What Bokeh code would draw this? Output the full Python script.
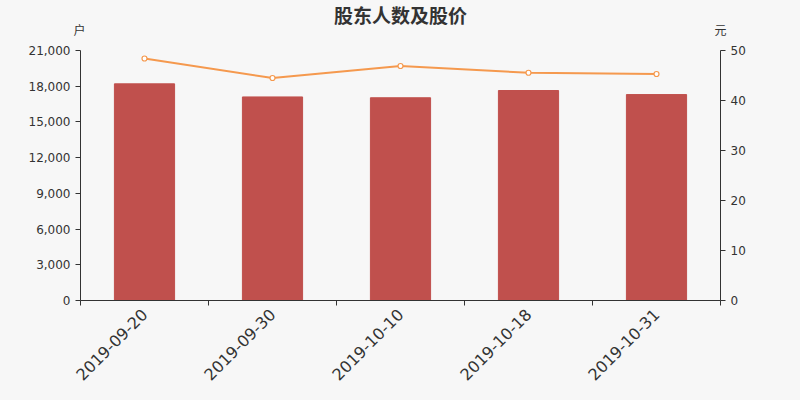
import math
from bokeh.plotting import figure
from bokeh.models import (ColumnDataSource, LinearAxis, Range1d, FixedTicker,
                          Label, NumeralTickFormatter)
from bokeh.embed import file_html
from bokeh.resources import INLINE

dates = ["2019-09-20", "2019-09-30", "2019-10-10", "2019-10-18", "2019-10-31"]
holders = [18200, 17100, 17030, 17640, 17300]
prices = [48.4, 44.5, 46.9, 45.55, 45.3]
left_ticks = [0, 3000, 6000, 9000, 12000, 15000, 18000, 21000]
right_ticks = [0, 10, 20, 30, 40, 50]

BG = "#f7f7f7"
TXT = "#333333"
FONT = "DejaVu Sans"
CJK = "Noto Sans CJK SC"

W, H = 792, 392
X0, X1 = 80, 720        # plot area left/right in px
YT, YB = 50, 300        # plot area top/bottom in px
N = len(dates)
PXU = (X1 - X0) / N     # px per category

LMAX = left_ticks[-1]
RMAX = right_ticks[-1]
LPX = LMAX / (YB - YT)  # left-axis units per px
RPX = RMAX / (YB - YT)

xs = [i + 0.5 for i in range(N)]
src = ColumnDataSource(dict(x=xs, h=holders, p=prices))

p = figure(width=W, height=H, output_backend="svg", toolbar_location=None,
           x_range=Range1d(-X0 / PXU, N + (W - X1) / PXU),
           y_range=Range1d(-(H - YB) * LPX, YB * LPX),
           min_border=0, x_axis_location=None, y_axis_location=None)
p.background_fill_color = BG
p.border_fill_color = BG
p.outline_line_color = None
p.xgrid.visible = False
p.ygrid.visible = False
p.extra_y_ranges = {"price": Range1d(-(H - YB) * RPX, YB * RPX)}

p.vbar(x="x", top="h", width=0.47, source=src, color="#c0504d")
p.line(x="x", y="p", source=src, y_range_name="price", color="#f5994e", line_width=2)
p.scatter(x="x", y="p", source=src, y_range_name="price", size=5,
          fill_color="white", line_color="#f5994e", line_width=1.2)

# x axis, fixed at y = 0
xa = LinearAxis(bounds=(0, N), fixed_location=0,
                ticker=FixedTicker(ticks=xs, minor_ticks=list(range(N + 1))))
xa.major_label_overrides = {x: d for x, d in zip(xs, dates)}
xa.major_tick_line_color = None
xa.minor_tick_in = 0
xa.minor_tick_out = 5
xa.minor_tick_line_color = TXT
xa.axis_line_color = TXT
xa.major_label_orientation = math.pi / 4
xa.major_label_text_font = FONT
xa.major_label_text_font_size = "16px"
xa.major_label_text_color = TXT
p.add_layout(xa, "below")

# y axes, fixed at the plot-area edges
ya = LinearAxis(ticker=FixedTicker(ticks=left_ticks),
                formatter=NumeralTickFormatter(format="0,0"),
                bounds=(0, LMAX), fixed_location=0)
ra = LinearAxis(y_range_name="price", ticker=FixedTicker(ticks=right_ticks),
                bounds=(0, RMAX), fixed_location=N)
p.add_layout(ya, "left")
p.add_layout(ra, "right")

for ax in [ya, ra]:
    ax.axis_line_color = TXT
    ax.major_tick_line_color = TXT
    ax.major_tick_in = 0
    ax.major_tick_out = 5
    ax.minor_tick_line_color = None
    ax.major_label_text_font = FONT
    ax.major_label_text_font_size = "12px"
    ax.major_label_text_color = TXT

p.add_layout(Label(x=N / 2, y=(YB - 13.5) * LPX, text="股东人数及股价",
                   text_align="center", text_baseline="middle", text_font=CJK,
                   text_font_size="19px", text_font_style="bold", text_color=TXT))
p.add_layout(Label(x=-1 / PXU, y=(YB - 29) * LPX, text="户", text_align="center",
                   text_baseline="middle", text_font=CJK, text_font_size="12px",
                   text_color=TXT))
p.add_layout(Label(x=N, y=(YB - 29) * LPX, text="元", text_align="center",
                   text_baseline="middle", text_font=CJK, text_font_size="12px",
                   text_color=TXT))

html = file_html(p, INLINE)
html = html.replace("<head>", "<head><style>body{background:#f7f7f7;}</style>", 1)
open("out.html", "w").write(html)
